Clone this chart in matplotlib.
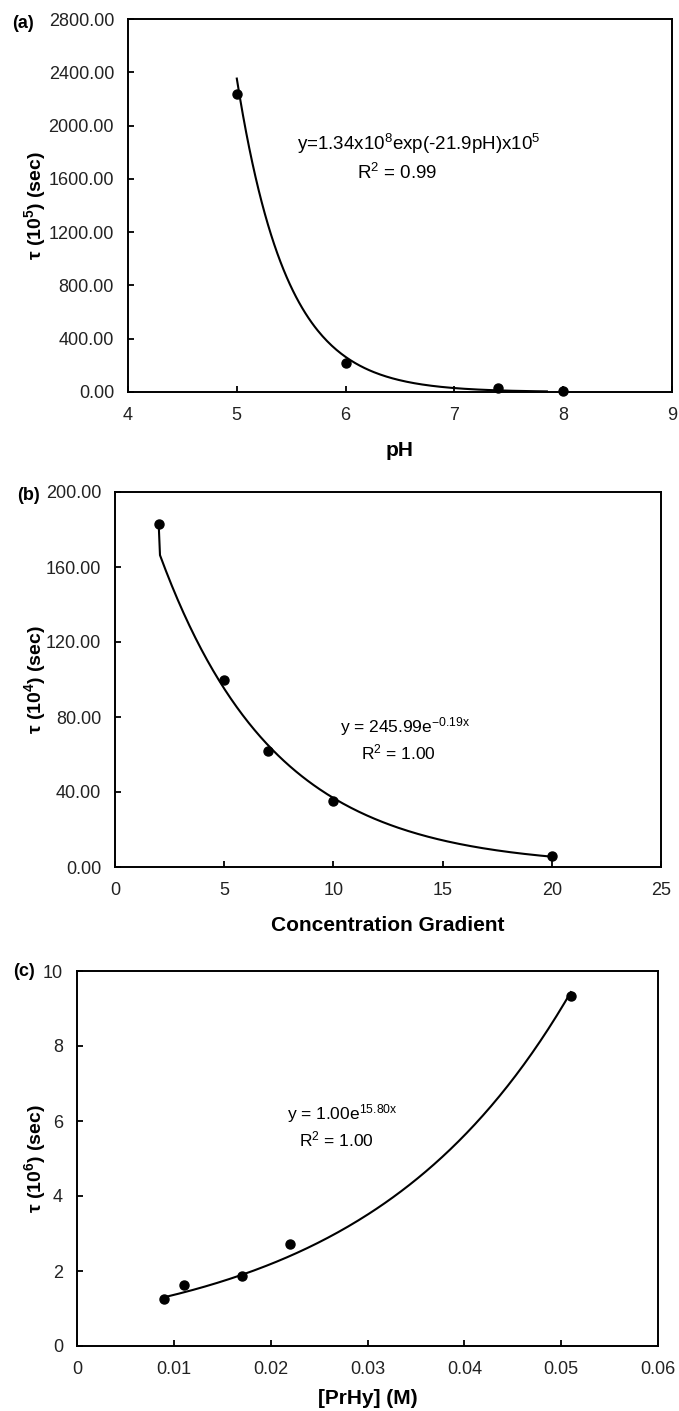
import numpy as np
import matplotlib
matplotlib.use("Agg")
import matplotlib.pyplot as plt

plt.rcParams['font.family'] = ['Liberation Sans', 'DejaVu Sans']
plt.rcParams['mathtext.fontset'] = 'custom'
plt.rcParams['mathtext.rm'] = 'Liberation Sans'
plt.rcParams['mathtext.it'] = 'Liberation Sans:italic'
plt.rcParams['mathtext.bf'] = 'Liberation Sans:bold'

# (a) tau vs pH
ph = [5.0, 6.0, 7.4, 8.0]
tau_a = [2240, 220, 30, 5]
fit_a = (1.34e8, -2.19)          # y = A exp(k x), trendline drawn in the figure
# (b) tau vs concentration gradient
grad = [2, 5, 7, 10, 20]
tau_b = [183, 100, 62, 35, 6]
fit_b = (245.99, -0.19)
# (c) tau vs [PrHy]
prhy = [0.009, 0.011, 0.017, 0.022, 0.051]
tau_c = [1.25, 1.62, 1.88, 2.72, 9.33]
fit_c = (0.85, 47.2)

W, H = 679, 1411
fig = plt.figure(figsize=(W / 100, H / 100), dpi=100)


def px_axes(left, right, top, bottom):
    return fig.add_axes([left / W, 1 - bottom / H, (right - left) / W, (bottom - top) / H])


def style(ax):
    for s in ax.spines.values():
        s.set_linewidth(1.4)
        s.set_color('black')
    ax.tick_params(direction='in', length=4.5, width=1.3, labelsize=13,
                   labelcolor='#222222', pad=11)
    ax.tick_params(axis='y', pad=10)


# ---- (a) ----
ax1 = px_axes(128, 672, 19, 392)
xa = np.linspace(5.0, 7.85, 200)
ax1.plot(xa, fit_a[0] * np.exp(fit_a[1] * xa), color='black', lw=1.5)
ax1.plot(ph, tau_a, 'o', color='black', ms=6.5, clip_on=False)
ax1.set_xlim(4, 9)
ax1.set_ylim(0, 2800)
ax1.set_xticks(range(4, 10))
ax1.set_yticks(np.arange(0, 2801, 400))
ax1.set_yticklabels([f"{v:.2f}" for v in np.arange(0, 2801, 400)])
style(ax1)
ax1.set_xlabel("pH", fontsize=15, fontweight='bold', labelpad=12)
ax1.set_ylabel(r"τ (10$^{\mathbf{5}}$) (sec)", fontsize=14, fontweight='bold')
ax1.yaxis.set_label_coords(-0.147, 0.5)
ax1.text(6.67, 1860, r"y=1.34x10$^8$exp(-21.9pH)x10$^5$", fontsize=13.5, ha='center', va='center')
ax1.text(6.47, 1645, r"R$^2$ = 0.99", fontsize=13.5, ha='center', va='center')
fig.text(23 / W, 1 - 24 / H, "(a)", fontsize=13, fontweight='bold', ha='center', va='center')

# ---- (b) ----
ax2 = px_axes(115, 661, 492, 867)
xb = np.linspace(2.06, 20, 200)
cb_x = np.concatenate([[grad[0]], xb])
cb_y = np.concatenate([[tau_b[0]], fit_b[0] * np.exp(fit_b[1] * xb)])
ax2.plot(cb_x, cb_y, color='black', lw=1.5)
ax2.plot(grad, tau_b, 'o', color='black', ms=6.5, clip_on=False)
ax2.set_xlim(0, 25)
ax2.set_ylim(0, 200)
ax2.set_xticks(range(0, 26, 5))
ax2.set_yticks(np.arange(0, 201, 40))
ax2.set_yticklabels([f"{v:.2f}" for v in np.arange(0, 201, 40)])
style(ax2)
ax2.set_xlabel("Concentration Gradient", fontsize=15, fontweight='bold', labelpad=12)
ax2.set_ylabel(r"τ (10$^{\mathbf{4}}$) (sec)", fontsize=14, fontweight='bold')
ax2.yaxis.set_label_coords(-0.1225, 0.5)
ax2.text(13.3, 75, r"y = 245.99e$^{\mathrm{-0.19x}}$", fontsize=12.5, ha='center', va='center')
ax2.text(13.0, 61, r"R$^2$ = 1.00", fontsize=12.5, ha='center', va='center')
fig.text(28 / W, 1 - 495 / H, "(b)", fontsize=13, fontweight='bold', ha='center', va='center')

# ---- (c) ----
ax3 = px_axes(77, 658, 971, 1346)
xc = np.linspace(0.009, 0.051, 200)
ax3.plot(xc, fit_c[0] * np.exp(fit_c[1] * xc), color='black', lw=1.5)
ax3.plot(prhy, tau_c, 'o', color='black', ms=6.5, clip_on=False)
ax3.set_xlim(0, 0.06)
ax3.set_ylim(0, 10)
ax3.set_xticks(np.arange(0, 0.061, 0.01))
ax3.set_xticklabels(["0", "0.01", "0.02", "0.03", "0.04", "0.05", "0.06"])
ax3.set_yticks(range(0, 11, 2))
style(ax3)
ax3.set_xlabel("[PrHy] (M)", fontsize=15, fontweight='bold', labelpad=8)
ax3.set_ylabel(r"τ (10$^{\mathbf{6}}$) (sec)", fontsize=14, fontweight='bold')
ax3.yaxis.set_label_coords(-0.050, 0.5)
ax3.text(0.0274, 6.2, r"y = 1.00e$^{\mathrm{15.80x}}$", fontsize=12.5, ha='center', va='center')
ax3.text(0.0268, 5.5, r"R$^2$ = 1.00", fontsize=12.5, ha='center', va='center')
fig.text(24 / W, 1 - 972 / H, "(c)", fontsize=13, fontweight='bold', ha='center', va='center')

fig.savefig("out.png", dpi=100)
